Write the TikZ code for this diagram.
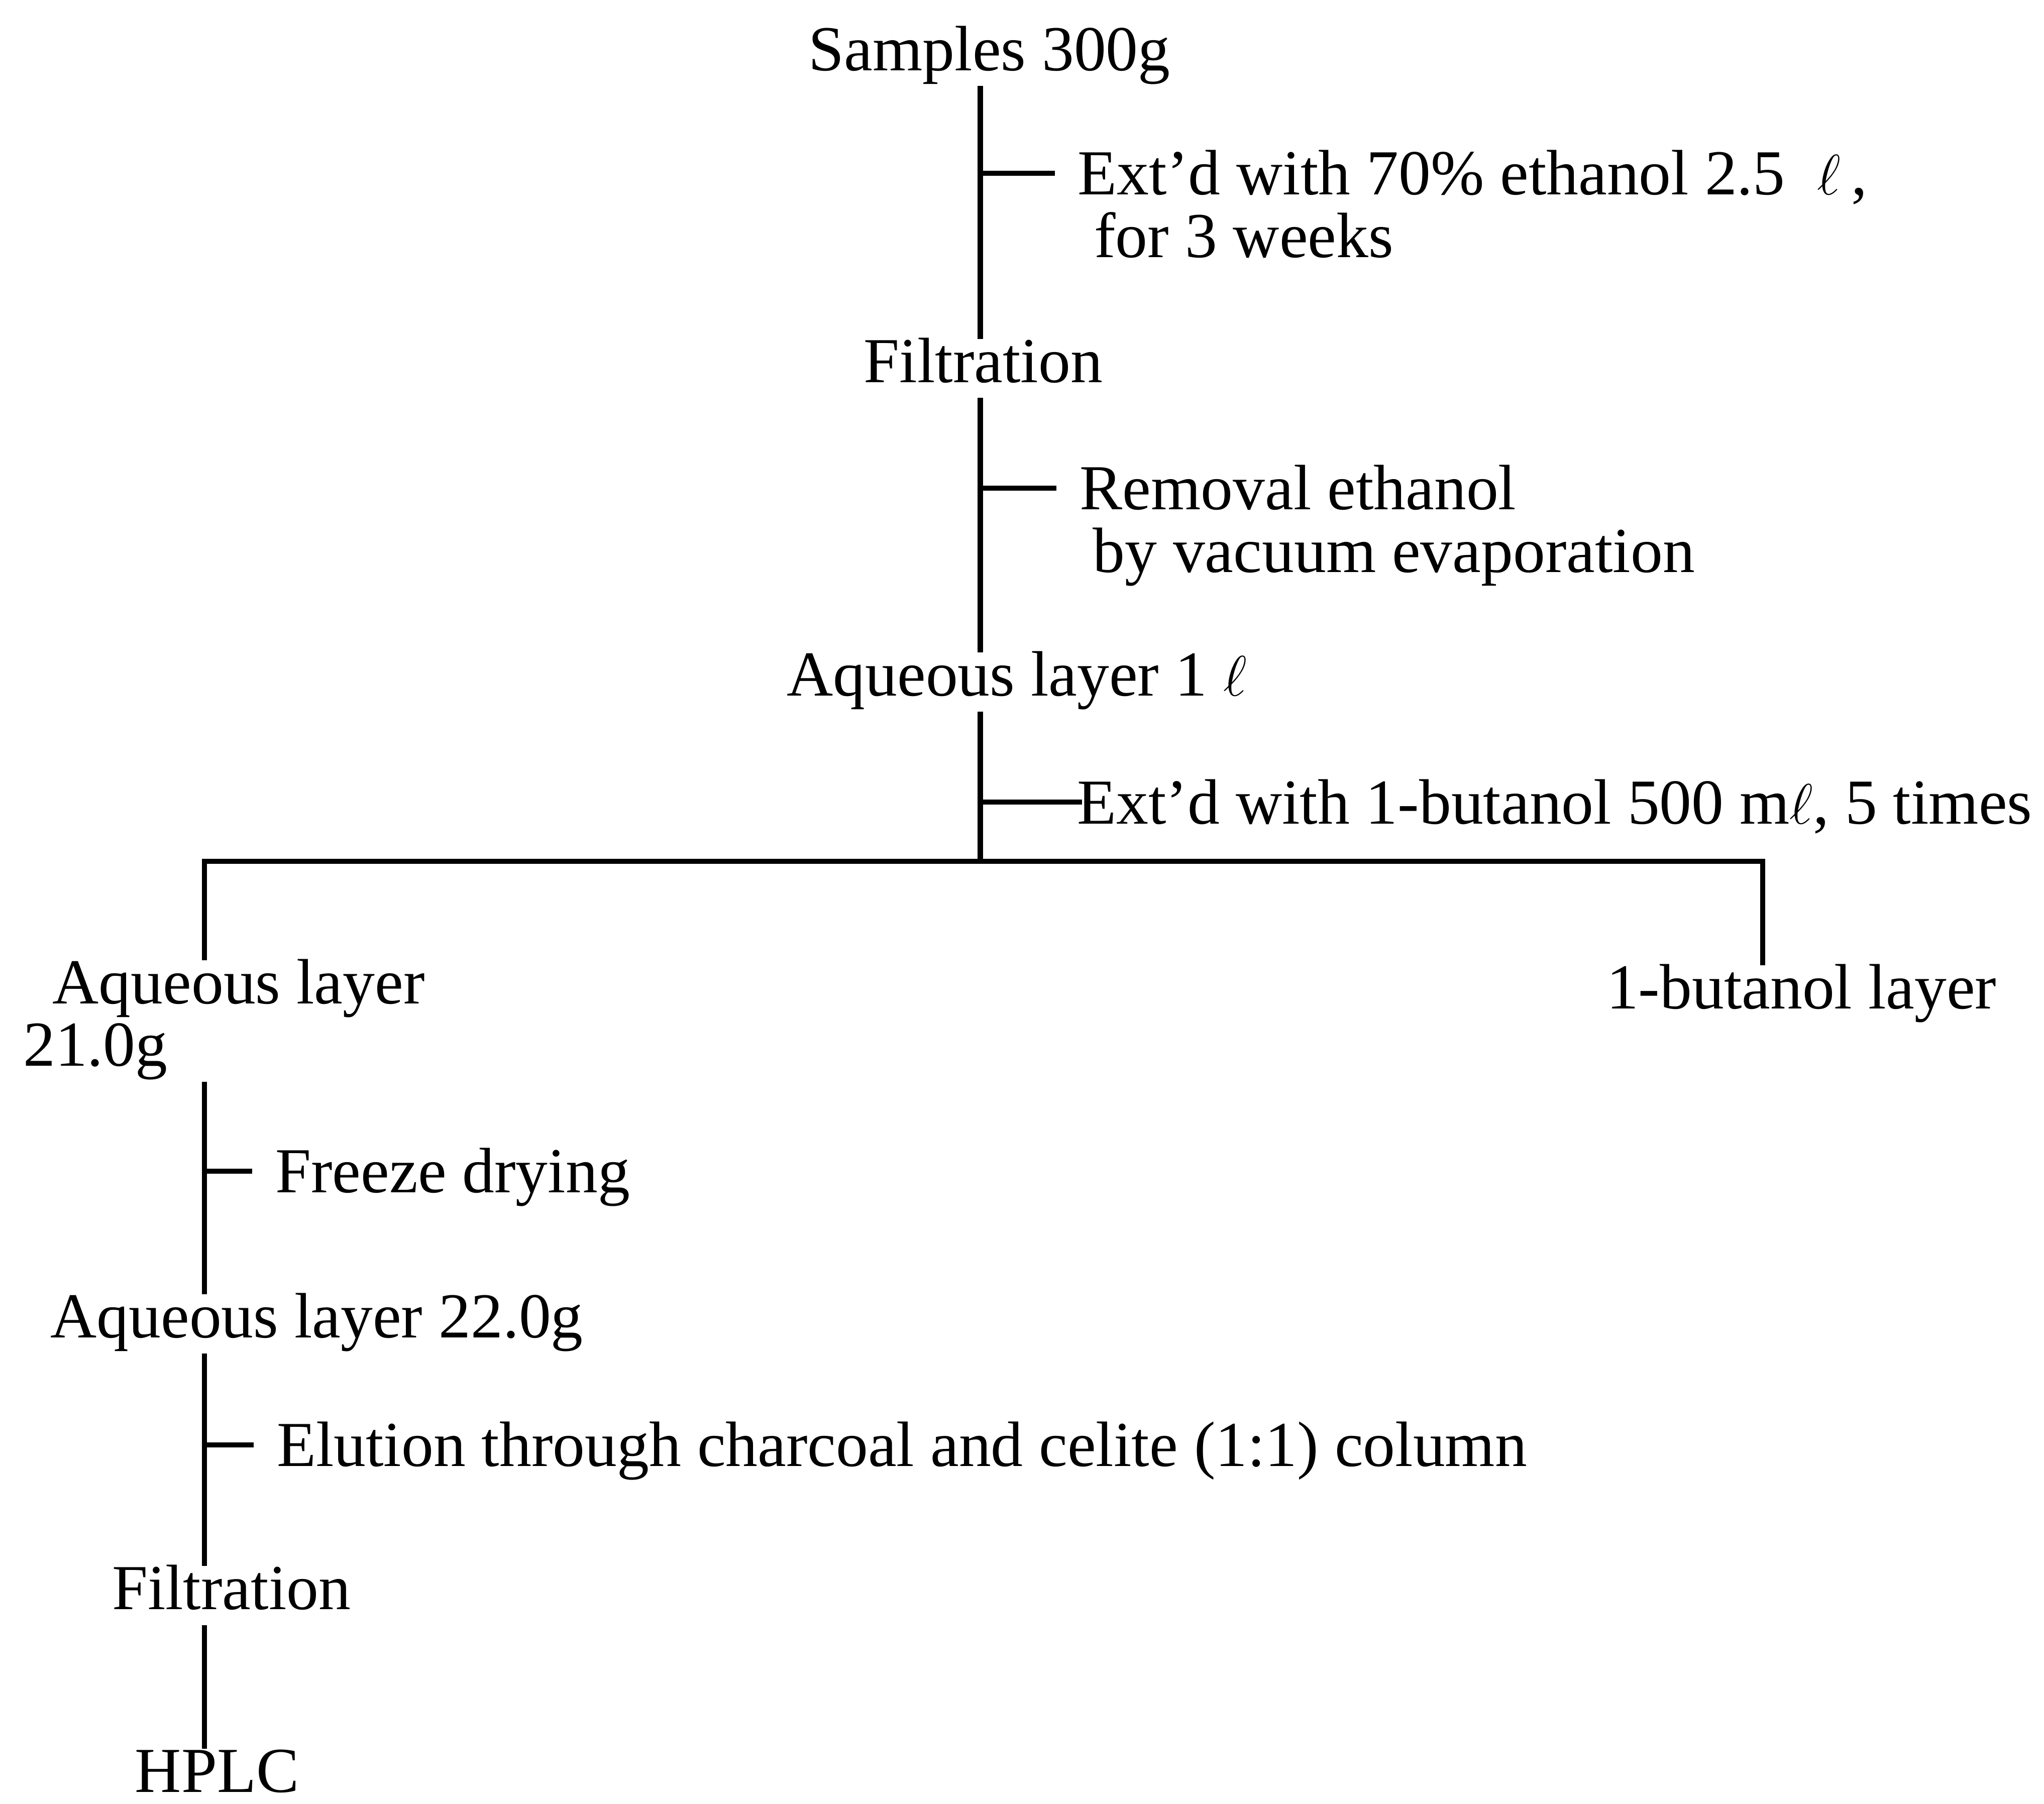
\documentclass[tikz,border=0pt]{standalone}
\usepackage{fontspec}
\setmainfont{Liberation Serif}
\usetikzlibrary{positioning}

\begin{document}
\begin{tikzpicture}[x=0.02cm,y=-0.02cm,
   stage/.style={inner sep=0pt,text height=0.66cm,text depth=0.23cm,font=\fontsize{28}{34}\selectfont},
   note/.style={inner sep=0pt,text height=0.66cm,text depth=0pt,anchor=base west,font=\fontsize{28}{34}\selectfont},
   link/.style={line width=2.2pt},
   tick/.style={line width=2.2pt,shorten >=0.35cm}]
   \useasboundingbox (0,0) rectangle (1568,1384);
   \coordinate (spine) at (752,0);
   \coordinate (left) at (157,0);
   \coordinate (right) at (1352,0);
   \coordinate (split) at (752,661);

   \node[stage,anchor=base] (samples) at (759,54) {Samples 300g};
   \node[note] (ext1) at (826.6,149.5) {Ext'd with 70\% ethanol 2.5~~$\ell$\,,};
   \node[note] (ext1b) [below right=0.96cm and 0.25cm of ext1.base west,anchor=base west] {for 3 weeks};
   \node[stage,anchor=base] (filt1) at (754.3,293.5) {Filtration};
   \node[note] (removal) at (828,391) {Removal ethanol};
   \node[note] (vac) [below right=0.96cm and 0.2cm of removal.base west,anchor=base west] {by vacuum evaporation};
   \node[stage,anchor=base] (aq1) at (780,534) {Aqueous layer 1 $\ell$};
   \node[note] (butext) at (826,632) {Ext'd with 1-butanol 500 m$\ell$, 5 times};
   \node[stage,anchor=base west] (aqw) at (40,770) {Aqueous layer};
   \node[stage] (aqw2) [below left=0.96cm and 0.45cm of aqw.base west,anchor=base west] {21.0g};
   \node[stage,anchor=base west] (bu) at (1232,774) {1-butanol layer};
   \node[note] (freeze) at (211,915) {Freeze drying};
   \node[stage,anchor=base west] (aq22) at (38.4,1026.5) {Aqueous layer 22.0g};
   \node[note] (elution) at (212,1125) {Elution through charcoal and celite (1:1) column};
   \node[stage,anchor=base] (filt2) at (177.5,1235) {Filtration};
   \node[stage,anchor=base] (hplc) at (166.5,1375) {HPLC};

   \draw[link] (samples.south -| spine) -- (filt1.north -| spine);
   \draw[link] (filt1.south -| spine) -- (aq1.north -| spine);
   \draw[link] (aq1.south -| spine) -- (split);
   \draw[link] (aqw.north -| left) -- (split -| left) -- (split -| right) -- (bu.north -| right);
   \draw[link] (aqw2.south -| left) -- (aq22.north -| left);
   \draw[link] (aq22.south -| left) -- (filt2.north -| left);
   \draw[link] (filt2.south -| left) -- (hplc.north -| left);

   \draw[tick] (ext1.west -| spine) -- (ext1.west);
   \draw[tick] (removal.west -| spine) -- (removal.west);
   \draw[tick,shorten >=-0.08cm] (butext.west -| spine) -- (butext.west);
   \draw[tick] (freeze.west -| left) -- (freeze.west);
   \draw[tick] (elution.west -| left) -- (elution.west);
\end{tikzpicture}
\end{document}
